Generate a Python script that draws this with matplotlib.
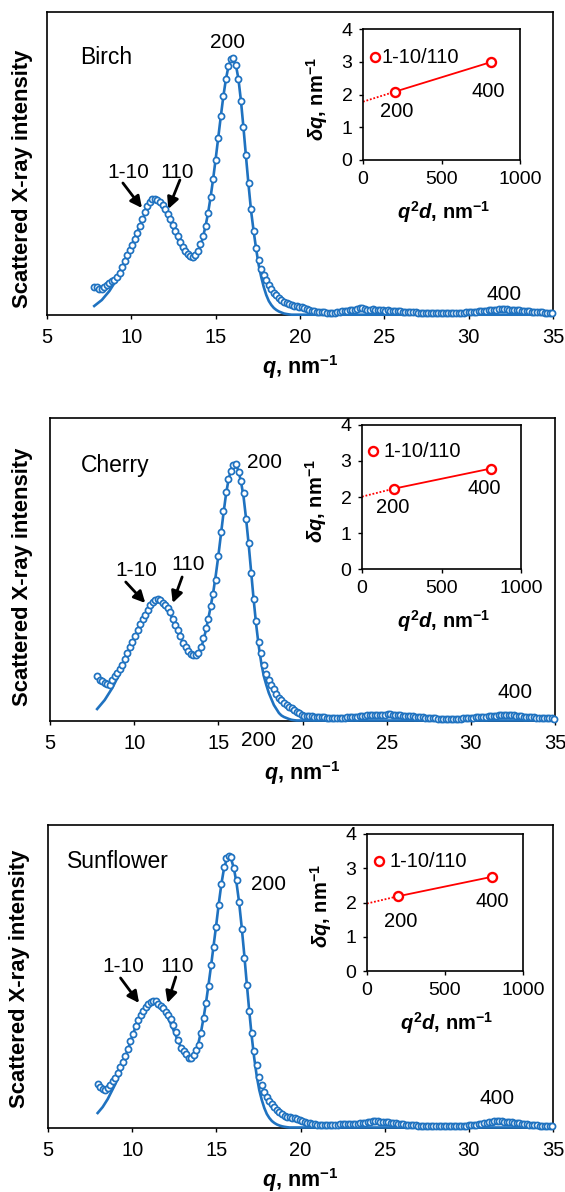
import numpy as np
import matplotlib
matplotlib.use('Agg')
import matplotlib.pyplot as plt

plt.rcParams.update({
    'font.family': ['Liberation Sans', 'DejaVu Sans'],
    'font.size': 14,
    'mathtext.fontset': 'custom',
    'mathtext.rm': 'Liberation Sans:bold',
    'mathtext.it': 'Liberation Sans:italic:bold',
    'mathtext.bf': 'Liberation Sans:bold',
    'axes.linewidth': 1.2,
})

# ---- data (intensity in arbitrary units) ----
Q_STEP = 0.15
sample_names = ['Birch', 'Cherry', 'Sunflower']
q_start = [7.80, 7.80, 7.95]

birch_intensity = [
    28, 28, 26, 26, 28, 30, 32, 34, 35, 38,
    42, 48, 54, 60, 65, 70, 76, 82, 89, 96,
    103, 109, 113, 116, 116, 115, 113, 110, 106, 101,
    96, 90, 84, 79, 73, 68, 64, 61, 59, 58,
    60, 64, 71, 79, 89, 102, 118, 136, 155, 177,
    199, 219, 236, 249, 256, 257, 250, 236, 214, 188,
    160, 132, 106, 84, 67, 55, 46, 40, 35, 30,
    26, 22, 20, 17, 15, 13, 12, 11, 10, 9,
    9, 8, 8,
    7, 6, 5, 4.5, 4, 3.5, 3, 3, 2.7, 2.5,
    2.5, 2.3, 2.5, 3, 3.5, 4, 4.3, 4.5, 4.7, 5,
    5.3, 6, 7, 7.5, 6.5, 5.5, 5.5, 5.8, 5, 4.8,
    5.2, 4.8, 4.5, 4.7, 4.3, 4.2, 4.4, 4, 3.7, 3.5,
    3.5, 3.2, 3, 2.8, 2.6, 2.5, 2.3, 2.2, 2, 2,
    1.8, 1.8, 1.7, 1.7, 1.8, 1.7, 1.8, 1.8, 1.9, 2,
    2, 2.2, 2.3, 2.5, 2.7, 3, 3, 3.3, 3.5, 3.7,
    4, 4.2, 4.5, 4.7, 5, 5.3, 5.5, 5.7, 5.8, 5.8,
    5.7, 5.5, 5.3, 5.2, 5, 4.8, 4.5, 4.2, 4, 3.7,
    3.5, 3.2, 3, 2.8, 2.6, 2.4, 2.2, 2.1, 2,
]
birch_fit = [
    9, 11, 13, 15, 18, 21, 24, 28, 32, 37,
    42, 47, 53, 59, 65, 71, 77, 83, 89, 95,
    101, 106, 110, 113, 114, 113, 111, 108, 104, 99,
    94, 88, 82, 76, 70, 65, 61, 58, 56, 55,
    57, 62, 69, 78, 89, 102, 118, 136, 156, 177,
    198, 218, 235, 248, 255, 256, 250, 236, 214, 187,
    158, 130, 104, 84, 66, 50, 38, 28, 20, 14,
    10, 7, 5, 3.5, 2.5, 1.5, 1, 0.6, 0.3, 0.3,
    0.3, 0.3, 0.3,
]

cherry_intensity = [
    45, 41, 40, 38, 37, 36, 41, 45, 48, 52,
    56, 62, 68, 74, 79, 85, 91, 97, 102, 106,
    111, 116, 119, 121, 122, 121, 118, 116, 113, 109,
    102, 96, 91, 85, 78, 74, 70, 67, 66, 66,
    68, 74, 83, 93, 102, 115, 127, 141, 165, 189,
    210, 229, 242, 250, 256, 257, 249, 240, 228, 202,
    178, 148, 122, 100, 79, 68, 56, 47, 41, 36,
    32, 27, 23, 21, 18, 16, 14, 13, 11, 9.5,
    8, 6, 5,
    5.5, 5, 4.7, 4.5, 4.2, 4, 3.8, 3.7, 3.5, 3.5,
    3.3, 3.3, 3.3, 3.3, 3.4, 3.5, 3.7, 3.8, 4, 4.2,
    4.5, 4.8, 5, 5.3, 5.6, 5.8, 6, 6, 6.2, 6.3,
    6.5, 6.5, 6.7, 6.8, 6.5, 6.3, 6, 5.8, 5.5, 5.3,
    5, 4.8, 4.6, 4.4, 4.2, 4, 3.8, 3.5, 3.2, 3,
    2.8, 2.6, 2.4, 2.3, 2.2, 2.1, 2, 2, 2, 2.1,
    2.2, 2.4, 2.6, 2.8, 3, 3.2, 3.4, 3.6, 3.8, 4,
    4.2, 4.4, 4.6, 4.9, 5.2, 5.5, 5.8, 6.1, 6.3, 6.3,
    6.2, 6, 5.7, 5.4, 5.1, 4.8, 4.5, 4.2, 4, 3.8,
    3.6, 3.4, 3.2, 3, 2.9, 2.8, 2.7, 2.6, 2.5,
]
cherry_fit = [
    12, 15, 18, 21, 25, 29, 33, 38, 43, 48,
    54, 60, 66, 72, 78, 84, 90, 96, 101, 106,
    111, 115, 118, 120, 121, 120, 118, 115, 111, 107,
    102, 96, 90, 84, 79, 74, 70, 67, 65, 65,
    67, 72, 80, 90, 102, 115, 129, 146, 165, 186,
    207, 226, 241, 251, 256, 256, 250, 239, 224, 202,
    177, 149, 121, 96, 75, 58, 45, 36, 28, 22,
    16, 12, 8, 5.5, 4, 3, 2, 1.2, 0.8, 0.5,
    0.5, 0.5, 0.5,
]

sunflower_intensity = [
    44, 41, 39.5, 38.5, 40, 43.5, 47, 50, 55.5, 61,
    66, 72, 79, 87, 94, 102, 108, 113, 117, 121,
    124, 126, 127, 127.5, 124.5, 122, 120, 116, 113, 109,
    103, 96, 88, 80.5, 77, 74, 70.5, 70, 73.5, 78,
    83.5, 95, 110, 125.5, 142, 163, 181, 201, 223, 244,
    261, 270, 272.5, 271, 260, 248, 226, 199, 170, 143,
    117, 95, 77, 63, 51, 43, 36, 31, 27.5, 24,
    21, 18.5, 16, 14.5, 12.5, 11.5, 11, 10.5, 9.7, 9,
    8, 7.5,
    6.5, 5.5, 4.8, 4.2, 3.8, 3.5, 3.2, 3, 3, 2.9,
    3, 3, 3.2, 3.5, 3.8, 4, 4.1, 4.2, 4.2, 4.3,
    4.3, 4.5, 4.7, 5, 5.3, 5.8, 6.5, 7.3, 7.5, 7,
    6.5, 6.3, 6, 5.6, 5.3, 5, 4.7, 4.4, 4.1, 3.8,
    3.5, 3.2, 3, 2.8, 2.6, 2.4, 2.2, 2, 1.9, 1.8,
    1.7, 1.7, 1.7, 1.7, 1.8, 1.8, 1.9, 2, 2, 2.1,
    2.2, 2.3, 2.3, 2.4, 2.5, 2.6, 2.7, 2.9, 3.2, 3.6,
    4.2, 4.8, 5.4, 6, 6.5, 6.9, 7, 6.9, 6.7, 6.4,
    6.2, 5.9, 5.6, 5.3, 5, 4.7, 4.4, 4.1, 3.8, 3.5,
    3.2, 3, 2.7, 2.5, 2.3, 2.1, 2, 1.8, 1.6,
]
sunflower_fit = [
    15, 18, 21, 25, 29, 34, 39, 44, 50, 57,
    64, 71, 79, 86, 94, 101, 107, 113, 118, 122,
    125, 127, 127.5, 127, 125, 122, 118, 114, 109, 104,
    98, 92, 86, 81, 76, 72, 70, 70, 72, 78,
    86, 97, 111, 127, 145, 164, 184, 204, 225, 244,
    259, 268, 271, 268, 259, 245, 226, 202, 175, 146,
    118, 92, 70, 52, 38, 28, 20, 14, 10, 7,
    5, 3.5, 2.5, 1.7, 1.2, 0.8, 0.5, 0.5, 0.5, 0.5,
    0.5, 0.5,
]
# the fitted curve runs flat along the baseline up to the end of the q range
fit_end_q = 35.0
fit_end_value = [0.3, 0.5, 0.5]

# inset: peak width dq vs q^2 d (reflections 1-10/110, 200, 400)
birch_q2d = [74, 206, 815]
birch_dq = [3.16, 2.09, 2.99]
cherry_q2d = [67, 199, 810]
cherry_dq = [3.29, 2.23, 2.79]
sunflower_q2d = [75, 197, 801]
sunflower_dq = [3.20, 2.18, 2.75]
dq_intercept = [1.78, 2.01, 1.97]

BLUE = '#1f72c0'
RED = '#ff0000'
W, H = 565, 1192

fig = plt.figure(figsize=(W / 100, H / 100), dpi=100)


def px_rect(x0, y0, x1, y1):
    return [x0 / W, 1 - y1 / H, (x1 - x0) / W, (y1 - y0) / H]


def fig_text(x, y, s, **kw):
    fig.text(x / W, 1 - y / H, s, ha='center', va='center', **kw)


def add_arrow(ax, tail, head):
    ax.annotate('', xy=head, xytext=tail,
                arrowprops=dict(arrowstyle='-|>', color='black', lw=2.0,
                                mutation_scale=17, shrinkA=0, shrinkB=0))


panels = [
    dict(main=(47, 12, 553, 315), inset=(363, 29, 520, 160),
         intensity=birch_intensity, fit=birch_fit, q2d=birch_q2d, dq=birch_dq,
         name_pos=(0.065, 0.851), t200=(15.73, 272), t110a=(9.8, 143), t110b=(12.69, 143),
         arr_a=((9.5, 132), (10.63, 107)), arr_b=((12.88, 135), (12.19, 106)),
         t400=(32.1, 21), extra200=None,
         in_lbl=(119, 3.13), in_200=(215, 1.47), in_400=(798, 2.09),
         ylab=(22.5, 179), inylab=(317, 99)),
    dict(main=(50, 418, 555, 721), inset=(362, 425, 521, 569),
         intensity=cherry_intensity, fit=cherry_fit, q2d=cherry_q2d, dq=cherry_dq,
         name_pos=(0.061, 0.843), t200=(17.74, 259), t110a=(10.13, 150), t110b=(13.22, 156),
         arr_a=((9.5, 139), (10.66, 118)), arr_b=((12.85, 144), (12.29, 118)),
         t400=(32.6, 29), extra200=(17.4, -19),
         in_lbl=(134, 3.26), in_200=(191, 1.71), in_400=(769, 2.24),
         ylab=(23, 577), inylab=(316, 501)),
    dict(main=(48, 825, 553, 1128), inset=(367, 834, 523, 971),
         intensity=sunflower_intensity, fit=sunflower_fit, q2d=sunflower_q2d, dq=sunflower_dq,
         name_pos=(0.037, 0.881), t200=(18.08, 244), t110a=(9.46, 162), t110b=(12.66, 162),
         arr_a=((9.31, 150), (10.41, 125)), arr_b=((12.59, 151), (12.1, 125)),
         t400=(31.69, 30), extra200=None,
         in_lbl=(147, 3.19), in_200=(218, 1.44), in_400=(806, 2.02),
         ylab=(19.5, 979), inylab=(321, 906)),
]

for i, p in enumerate(panels):
    x0, y0, x1, y1 = p['main']
    ax = fig.add_axes(px_rect(x0, y0, x1, y1))
    q = q_start[i] + Q_STEP * np.arange(len(p['intensity']))
    qf = q_start[i] + Q_STEP * np.arange(len(p['fit']))
    qf = np.append(qf, fit_end_q)
    fit = np.append(p['fit'], fit_end_value[i])

    ax.plot(qf, fit, color=BLUE, lw=1.9, zorder=3, clip_on=False)
    ax.plot(q, p['intensity'], 'o', ms=4.4, mfc='white', mec=BLUE, mew=1.25,
            zorder=4, clip_on=False)

    ax.set_xlim(5, 35)
    ax.set_ylim(0, y1 - y0)
    ax.set_xticks([5, 10, 15, 20, 25, 30, 35])
    ax.set_yticks([])
    ax.tick_params(axis='x', direction='out', length=3.1, width=1.0, labelsize=14.5, pad=6.5)
    for s in ax.spines.values():
        s.set_color('black')

    ax.text(*p['name_pos'], sample_names[i], transform=ax.transAxes,
            ha='left', va='center', fontsize=16.5)
    ax.text(*p['t200'], '200', ha='center', va='center', fontsize=15)
    ax.text(*p['t110a'], '1-10', ha='center', va='center', fontsize=15)
    ax.text(*p['t110b'], '110', ha='center', va='center', fontsize=15)
    ax.text(*p['t400'], '400', ha='center', va='center', fontsize=15)
    if p['extra200'] is not None:
        ax.text(*p['extra200'], '200', ha='center', va='center', fontsize=15, clip_on=False)
    add_arrow(ax, *p['arr_a'])
    add_arrow(ax, *p['arr_b'])

    fig_text(*p['ylab'], 'Scattered X-ray intensity', rotation=90,
             fontsize=15.8, fontweight='bold')
    fig_text((x0 + x1) / 2, y1 + 52, r'$q$, nm$^{-1}$', fontsize=15.5, fontweight='bold')

    # inset
    ix0, iy0, ix1, iy1 = p['inset']
    axi = fig.add_axes(px_rect(ix0, iy0, ix1, iy1))
    qx, dq = p['q2d'], p['dq']
    axi.plot([0, qx[1]], [dq_intercept[i], dq[1]], color=RED, lw=1.3, ls=(0, (1, 1)))
    axi.plot(qx[1:], dq[1:], color=RED, lw=1.3)
    axi.plot(qx, dq, 'o', ms=6.5, mfc='white', mec=RED, mew=1.7, zorder=4, clip_on=False)
    axi.set_xlim(0, 1000)
    axi.set_ylim(0, 4)
    axi.set_xticks([0, 500, 1000])
    axi.set_yticks([0, 1, 2, 3, 4])
    axi.tick_params(direction='out', length=3.1, width=1.0, labelsize=14, pad=4.5)
    axi.text(*p['in_lbl'], '1-10/110', ha='left', va='center', fontsize=14.5)
    axi.text(*p['in_200'], '200', ha='center', va='center', fontsize=14.5)
    axi.text(*p['in_400'], '400', ha='center', va='center', fontsize=14.5)

    fig_text(*p['inylab'], r'$\delta q$, nm$^{-1}$', rotation=90, fontsize=14.5, fontweight='bold')
    fig_text((ix0 + ix1) / 2 + 2, iy1 + 52, r'$q^{2}d$, nm$^{-1}$', fontsize=14.5, fontweight='bold')

fig.savefig('out.png', dpi=100)
